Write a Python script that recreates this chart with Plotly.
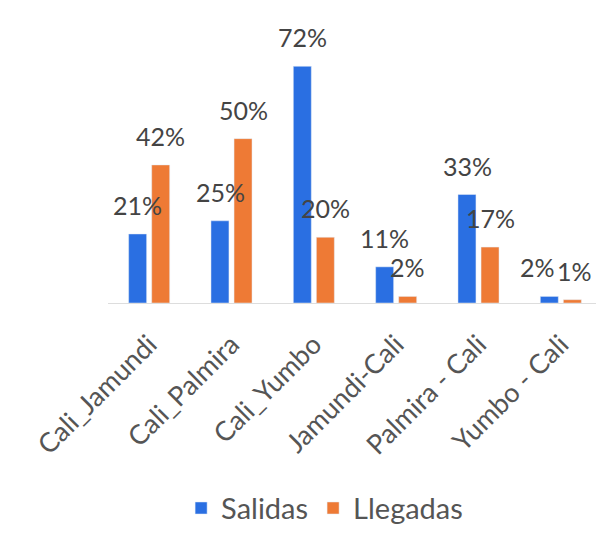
import plotly.graph_objects as go

categories = ["Cali_Jamundi", "Cali_Palmira", "Cali_Yumbo", "Jamundi-Cali", "Palmira - Cali", "Yumbo - Cali"]
salidas = [21, 25, 72, 11, 33, 2]
llegadas = [42, 50, 20, 2, 17, 1]

FONT = "Lato, 'Open Sans', sans-serif"
TXT = "#444444"
TICK = "#555555"

fig = go.Figure()
fig.add_trace(go.Bar(x=categories, y=salidas, name="Salidas", marker_color="#2a6fe2"))
fig.add_trace(go.Bar(x=categories, y=llegadas, name="Llegadas", marker_color="#ee7a35"))

# data labels as annotations (centred on each bar of the group)
half = 11.5  # half the distance between the two bar centres, in px
annotations = []
for vals, base_shift in ((salidas, -half), (llegadas, half)):
    for i, (c, v) in enumerate(zip(categories, vals)):
        shift = base_shift
        if i == len(categories) - 1:  # keep the two tiny labels apart like the original
            shift += -12 if base_shift < 0 else 2
        annotations.append(dict(
            x=c, y=v, xref="x", yref="y", text=f"{v}%", showarrow=False,
            xanchor="center", yanchor="bottom", xshift=shift, yshift=12,
            font=dict(size=25, color=TXT, family=FONT),
        ))

fig.update_layout(
    width=596, height=527,
    paper_bgcolor="white", plot_bgcolor="white",
    margin=dict(l=100, r=2, t=32, b=226),
    barmode="group", bargap=0.44, bargroupgap=0.22,
    font=dict(family=FONT, size=24, color=TXT),
    showlegend=True,
    annotations=annotations,
    legend=dict(orientation="h", x=0.148, xanchor="left", y=-0.78, yanchor="middle",
                font=dict(size=29, color=TICK, family=FONT), itemwidth=30),
    xaxis=dict(tickangle=-45, showline=True, linecolor="#dddddd", linewidth=1,
               ticks="", ticklabelstandoff=14,
               tickfont=dict(size=27, color=TICK, family=FONT)),
    yaxis=dict(range=[0, 80], visible=False, showgrid=False, zeroline=False),
)

fig.write_html("out.html")
